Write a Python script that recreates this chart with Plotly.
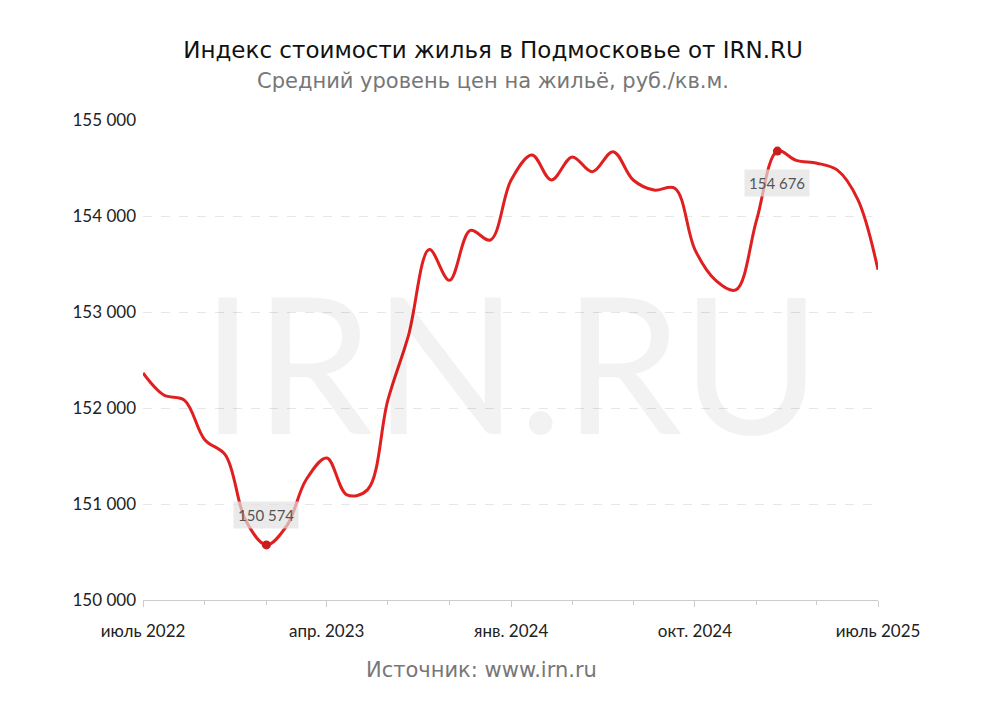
import pandas as pd
import plotly.graph_objects as go

months = pd.date_range("2022-07-01", "2025-07-01", freq="MS")
prices = [152365, 152135, 152080, 151670, 151510, 150830, 150574, 150780, 151250,
          151480, 151095, 151150, 152080, 152760, 153650, 153330, 153850, 153750,
          154375, 154635, 154375, 154615, 154460, 154670, 154375, 154270, 154290,
          153650, 153330, 153230, 153960, 154676, 154580, 154550, 154480, 154170,
          153440]
tick_dates = ["2022-07-01", "2023-04-01", "2024-01-01", "2024-10-01", "2025-07-01"]
tick_text = ["июль 2022", "апр. 2023", "янв. 2024", "окт. 2024", "июль 2025"]
y_ticks = [150000, 151000, 152000, 153000, 154000, 155000]
marked = [("2023-01-01", 150574, "150 574", 30), ("2025-02-01", 154676, "154 676", -32)]

fig = go.Figure()
fig.add_trace(go.Scatter(x=months, y=prices, mode="lines",
                         line=dict(color="#e02020", width=3, shape="spline", smoothing=1.0),
                         hoverinfo="skip"))
fig.add_trace(go.Scatter(x=[m[0] for m in marked], y=[m[1] for m in marked], mode="markers",
                         marker=dict(color="#c81e1e", size=9)))
for d, v, t, s in marked:
    fig.add_annotation(x=d, y=v, text=t, showarrow=False, yshift=s, borderpad=4,
                       bgcolor="rgba(225,225,225,0.7)", font=dict(size=15, color="#555"))

fig.add_annotation(x=0.5, y=0.5, xref="paper", yref="paper", text="IRN.RU", showarrow=False,
                   font=dict(size=190, color="rgba(0,0,0,0.05)", family="Lato"))

fig.update_layout(
    width=1000, height=713, plot_bgcolor="white", paper_bgcolor="white",
    showlegend=False, margin=dict(l=135, r=130, t=112, b=121),
    font=dict(family="Lato", size=17, color="#222"),
    title=dict(text="Индекс стоимости жилья в Подмосковье от IRN.RU<br>"
                    "<span style='font-size:21px;color:#777'>Средний уровень цен на жильё, руб./кв.м.</span>",
               x=0.485, y=0.93, font=dict(size=23, family="DejaVu Sans", color="#111")),
)
fig.update_xaxes(range=["2022-07-01", "2025-07-01"], tickvals=tick_dates, ticktext=tick_text,
                 showgrid=False, showline=True, linecolor="#ccc", ticks="outside",
                 tickcolor="#ccc", ticklen=6, ticklabelstandoff=10,
                 minor=dict(dtick="M3", ticks="outside", ticklen=4, tickcolor="#ccc"))
fig.update_yaxes(range=[150000, 155000], tickvals=y_ticks,
                 ticktext=[f"{v:,}".replace(",", " ") for v in y_ticks],
                 gridcolor="#e6e6e6", griddash="dash", zeroline=False, ticklabelstandoff=6)
fig.add_annotation(x=0.46, y=-0.175, xref="paper", yref="paper", text="Источник: www.irn.ru",
                   showarrow=False, font=dict(size=21, color="#777", family="DejaVu Sans"))
fig.write_html("out.html")
